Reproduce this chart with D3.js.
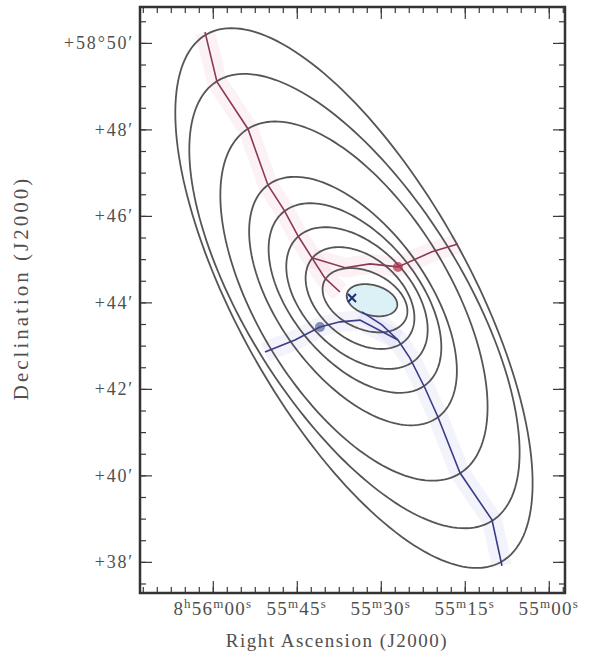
<!DOCTYPE html>
<html>
<head>
<meta charset="utf-8">
<script src="https://cdn.jsdelivr.net/npm/d3@7"></script>
<style>
  html, body { margin: 0; padding: 0; background: #fff; }
  svg { display: block; }
  text { font-family: "Liberation Serif", "DejaVu Serif", serif; fill: #505050; }
</style>
</head>
<body>
<svg id="chart" width="596" height="661"></svg>
<script>
// ---------------- data ----------------
// RA in seconds after 8h55m00s, Dec in arcmin after +58°00'
const raTicks = [60, 45, 30, 15, 0];
const raTickLabels = ["8h56m00s", "55m45s", "55m30s", "55m15s", "55m00s"];
const decTicks = [50, 48, 46, 44, 42, 40, 38];
const decTickLabels = ["+58°50′", "+48′", "+46′", "+44′", "+42′", "+40′", "+38′"];

// contour ellipses (centre RA s, centre Dec ', semi-axes ', position angle deg)
const ellRA  = [34.79, 34.70, 34.79, 34.96, 34.61, 34.25, 33.71, 32.82, 31.57];
const ellDec = [44.10, 44.03, 44.03, 44.03, 44.10, 44.10, 44.10, 44.05, 44.05];
const ellA   = [6.99, 6.00, 4.68, 3.33, 2.59, 1.97, 1.44, 1.04, 0.60];
const ellB   = [2.69, 2.50, 2.22, 1.72, 1.45, 1.22, 0.95, 0.66, 0.35];
const ellPA  = [29.2, 32.1, 31.6, 36.2, 40, 45, 50, 65, 75];

// red ridge (upper-left) and its eastern branch
const redRA   = [61.39, 59.25, 53.71, 50.14, 47.29, 44.79, 42.29, 39.96, 37.29];
const redDec  = [50.25, 49.10, 48.01, 46.71, 46.14, 45.54, 45.03, 44.56, 44.24];
const redBrRA  = [42.29, 36.39, 31.93, 26.93, 20.86, 16.21];
const redBrDec = [45.03, 44.80, 44.89, 44.82, 45.17, 45.35];
// blue ridge (lower-right) and its western branch
const blueRA   = [8.36, 10.14, 15.86, 19.79, 22.11, 24.79, 26.93, 29.79, 33.36];
const blueDec  = [37.91, 38.97, 40.06, 41.35, 42.02, 42.71, 43.13, 43.48, 43.78];
const blueBrRA  = [26.93, 33.71, 37.29, 40.86, 45.32, 50.68];
const blueBrDec = [43.13, 43.59, 43.55, 43.43, 43.13, 42.85];
// peak marker
const peakRA = [35.14], peakDec = [44.10];
const decRef = 58.73; // degrees, for RA scaling

// ---------------- layout ----------------
const svg = d3.select("#chart");
const L = 140, R = 565, T = 7, B = 593;
const x = d3.scaleLinear().domain([73.0, -2.9]).range([L, R]);
const y = d3.scaleLinear().domain([37.28, 50.83]).range([B, T]);

const cosD = Math.cos(decRef * Math.PI / 180);
function ellipsePts(i) {
  const pa = ellPA[i] * Math.PI / 180;
  const pts = [];
  for (let k = 0; k < 180; k++) {
    const t = k / 180 * 2 * Math.PI;
    const ma = ellA[i] * Math.cos(t), mb = ellB[i] * Math.sin(t);
    const east = ma * Math.sin(pa) + mb * Math.cos(pa);
    const north = ma * Math.cos(pa) - mb * Math.sin(pa);
    pts.push([ellRA[i] + east / (0.25 * cosD), ellDec[i] + north]);
  }
  return pts;
}
const lineXY = d3.line().x(d => x(d[0])).y(d => y(d[1]));
const closed = d3.line().x(d => x(d[0])).y(d => y(d[1])).curve(d3.curveLinearClosed);
const zip = (a, b) => a.map((v, i) => [v, b[i]]);

svg.append("defs").append("clipPath").attr("id", "clip")
  .append("rect").attr("x", L).attr("y", T).attr("width", R - L).attr("height", B - T);
const plot = svg.append("g").attr("clip-path", "url(#clip)");

// faint tints along ridges
const redPaths = [zip(redRA, redDec), zip(redBrRA, redBrDec)];
const bluePaths = [zip(blueRA, blueDec), zip(blueBrRA, blueBrDec)];
plot.selectAll("path.rtint").data(redPaths).join("path")
  .attr("d", lineXY).attr("fill", "none").attr("stroke", "#f3c4d2")
  .attr("stroke-width", 20).attr("stroke-opacity", 0.22).attr("stroke-linejoin", "round");
plot.selectAll("path.btint").data(bluePaths).join("path")
  .attr("d", lineXY).attr("fill", "none").attr("stroke", "#c9c9f2")
  .attr("stroke-width", 20).attr("stroke-opacity", 0.22).attr("stroke-linejoin", "round");

// innermost fill
plot.append("path").attr("d", closed(ellipsePts(ellA.length - 1)))
  .attr("fill", "#dcf1f6").attr("stroke", "none");

// contours
plot.selectAll("path.ell").data(d3.range(ellA.length)).join("path")
  .attr("class", "ell")
  .attr("d", i => closed(ellipsePts(i)))
  .attr("fill", "none").attr("stroke", "#555").attr("stroke-width", 1.8);

// ridges
plot.selectAll("path.red").data(redPaths).join("path")
  .attr("d", lineXY).attr("fill", "none").attr("stroke", "#8a3a50").attr("stroke-width", 1.6);
plot.selectAll("path.blue").data(bluePaths).join("path")
  .attr("d", lineXY).attr("fill", "none").attr("stroke", "#3a3c86").attr("stroke-width", 1.6);
// junction blobs
plot.append("circle").attr("cx", x(redBrRA[3])).attr("cy", y(redBrDec[3])).attr("r", 5)
  .attr("fill", "#b0304a").attr("opacity", 0.7);
plot.append("circle").attr("cx", x(blueBrRA[3])).attr("cy", y(blueBrDec[3])).attr("r", 5)
  .attr("fill", "#3a4a86").attr("opacity", 0.6);
// peak marker
plot.selectAll("path.peak").data(zip(peakRA, peakDec)).join("path")
  .attr("d", d => `M${x(d[0]) - 4},${y(d[1]) - 4}L${x(d[0]) + 4},${y(d[1]) + 4}M${x(d[0]) - 4},${y(d[1]) + 4}L${x(d[0]) + 4},${y(d[1]) - 4}`)
  .attr("stroke", "#1e2a7a").attr("stroke-width", 2);

// ---------------- axes ----------------
const raMinor = d3.range(-2.5, 73, 2.5);
const decMinor = d3.range(37.5, 51, 0.5);
function styleAxis(g) {
  g.select(".domain").remove();
  g.selectAll("line").attr("stroke", "#3a3a3a").attr("stroke-width", 1.2);
}
svg.append("g").attr("transform", `translate(0,${B})`)
  .call(d3.axisBottom(x).tickValues(raMinor).tickSize(-6).tickFormat("")).call(styleAxis);
svg.append("g").attr("transform", `translate(0,${B})`)
  .call(d3.axisBottom(x).tickValues(raTicks).tickSize(-12).tickFormat("")).call(styleAxis);
svg.append("g").attr("transform", `translate(0,${T})`)
  .call(d3.axisTop(x).tickValues(raMinor).tickSize(-6).tickFormat("")).call(styleAxis);
svg.append("g").attr("transform", `translate(0,${T})`)
  .call(d3.axisTop(x).tickValues(raTicks).tickSize(-12).tickFormat("")).call(styleAxis);
svg.append("g").attr("transform", `translate(${L},0)`)
  .call(d3.axisLeft(y).tickValues(decMinor).tickSize(-6).tickFormat("")).call(styleAxis);
svg.append("g").attr("transform", `translate(${L},0)`)
  .call(d3.axisLeft(y).tickValues(decTicks).tickSize(-12).tickFormat("")).call(styleAxis);
svg.append("g").attr("transform", `translate(${R},0)`)
  .call(d3.axisRight(y).tickValues(decMinor).tickSize(-6).tickFormat("")).call(styleAxis);
svg.append("g").attr("transform", `translate(${R},0)`)
  .call(d3.axisRight(y).tickValues(decTicks).tickSize(-12).tickFormat("")).call(styleAxis);

// frame
svg.append("rect").attr("x", L).attr("y", T).attr("width", R - L).attr("height", B - T)
  .attr("fill", "none").attr("stroke", "#333").attr("stroke-width", 2.5);

// Dec labels
svg.selectAll("text.dec").data(decTicks).join("text")
  .attr("x", L - 6).attr("y", d => y(d)).attr("dy", "0.35em")
  .attr("text-anchor", "end").attr("font-size", 18).attr("letter-spacing", 1.8)
  .text((d, i) => decTickLabels[i]);

// RA labels with superscript units
const raText = svg.selectAll("text.ra").data(raTicks).join("text")
  .attr("x", d => x(d)).attr("y", 615).attr("text-anchor", "middle")
  .attr("font-size", 19).attr("letter-spacing", 1.2);
raText.each(function (d, i) {
  const parts = raTickLabels[i].match(/\d+|[hms]/g);
  const t = d3.select(this);
  let raised = false;
  parts.forEach(p => {
    if (/[hms]/.test(p)) {
      t.append("tspan").attr("dy", -7).attr("font-size", 13).text(p);
      raised = true;
    } else {
      t.append("tspan").attr("dy", raised ? 7 : 0).text(p);
      raised = false;
    }
  });
});

// axis titles
svg.append("text").attr("x", 337).attr("y", 647).attr("text-anchor", "middle")
  .attr("font-size", 19).attr("letter-spacing", 1.5).text("Right Ascension (J2000)");
svg.append("text").attr("transform", "translate(28,288) rotate(-90)").attr("text-anchor", "middle")
  .attr("font-size", 21).attr("letter-spacing", 3).text("Declination (J2000)");
</script>
</body>
</html>
